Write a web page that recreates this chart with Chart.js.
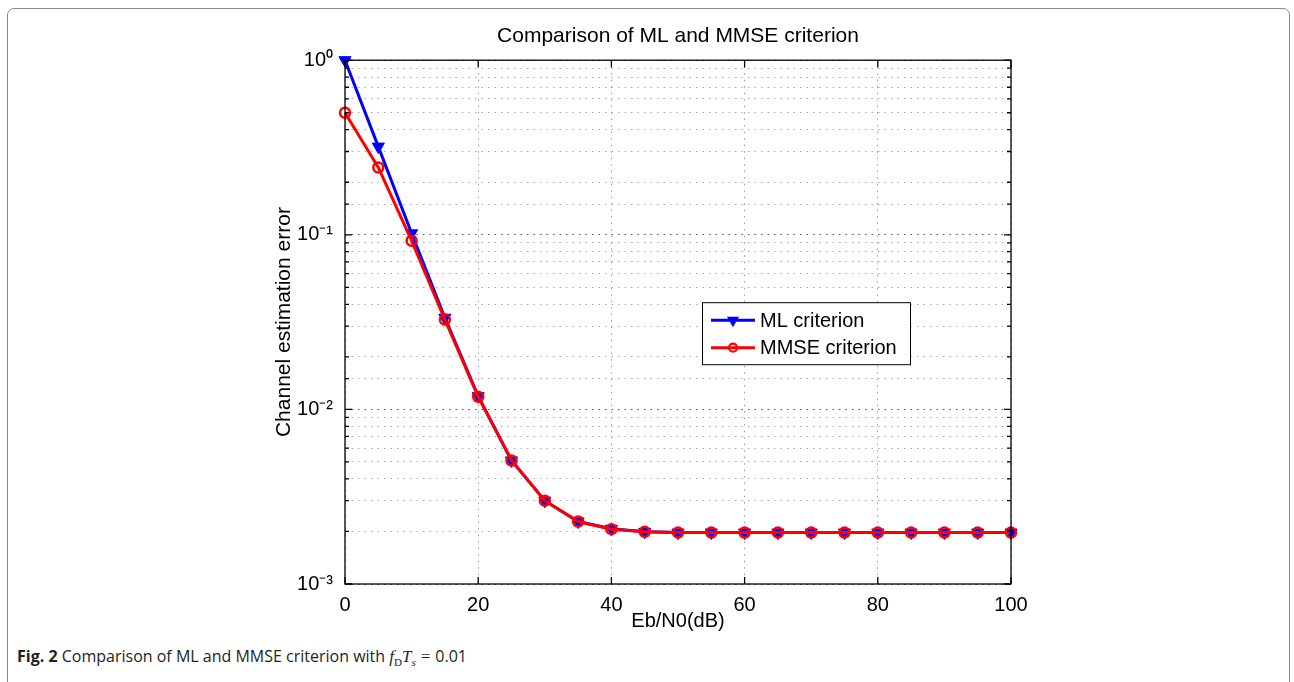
<!DOCTYPE html>
<html>
<head>
<meta charset="utf-8">
<script src="https://cdn.jsdelivr.net/npm/chart.js@4/dist/chart.umd.min.js"></script>
<style>
    body { margin: 0; background: #fff; }
    #page { position: relative; width: 1294px; height: 682px; overflow: hidden; }
    #frame {
        position: absolute; left: 7px; top: 8px; width: 1281px; height: 720px;
        border: 1.5px solid #8a8a8a; border-radius: 7px;
    }
    #chartBox { position: absolute; left: 0; top: 0; width: 1294px; height: 640px; }
    #caption {
        position: absolute; left: 17px; top: 645px;
        font-family: 'Open Sans', 'Noto Sans', sans-serif; font-size: 16px; color: #231f20;
        white-space: nowrap;
    }
    #caption b { font-weight: 700; }
    #caption .m { font-family: 'Liberation Serif', 'DejaVu Serif', serif; font-style: italic; font-size: 17px; }
    #caption sub { font-family: 'Liberation Serif', serif; font-size: 11px; font-style: normal; }
    #caption .eq { font-family: 'Liberation Serif', serif; font-size: 17px; margin: 0 5px; }
</style>
</head>
<body>
<div id="page">
    <div id="frame"></div>
    <div id="chartBox"><canvas id="myChart"></canvas></div>
    <div id="caption"><b>Fig. 2</b> Comparison of ML and MMSE criterion with <span class="m">f</span><sub>D</sub><span class="m">T</span><sub><i>s</i></sub><span class="eq">=</span>0.01</div>
</div>
<script>
// Eb/N0 in dB
const ebN0 = [0, 5, 10, 15, 20, 25, 30, 35, 40, 45, 50, 55, 60, 65, 70, 75, 80, 85, 90, 95, 100];

const mlError = [1.0, 0.32, 0.102, 0.0335, 0.0119, 0.0051, 0.0030, 0.00228, 0.00207, 0.00199, 0.00197,
    0.00197, 0.00197, 0.00197, 0.00197, 0.00197, 0.00197, 0.00197, 0.00197, 0.00197, 0.00197];
const mmseError = [0.50, 0.243, 0.0925, 0.0327, 0.0118, 0.0051, 0.0030, 0.00228, 0.00206, 0.00199, 0.00197,
    0.00197, 0.00197, 0.00197, 0.00197, 0.00197, 0.00197, 0.00197, 0.00197, 0.00197, 0.00197];

const seriesNames = ['ML criterion', 'MMSE criterion'];

const yTickValues = [1, 0.1, 0.01, 0.001];
const yTickLabels = ['10\u2070', '10\u207B\u00B9', '10\u207B\u00B2', '10\u207B\u00B3'];

const FONT = "'Liberation Sans', Arial, Helvetica, sans-serif";

function isDecade(value) {
    return yTickValues.some((v) => Math.abs(value - v) / v < 1e-6);
}

function toPoints(values) {
    return values.map((v, i) => ({ x: ebN0[i], y: v }));
}

function drawMarker(ctx, style, x, y, color) {
    ctx.save();
    ctx.strokeStyle = color;
    ctx.fillStyle = color;
    if (style === 'tri') {
        const r = 7;
        ctx.beginPath();
        ctx.moveTo(x - r * 0.866, y - r * 0.5);
        ctx.lineTo(x + r * 0.866, y - r * 0.5);
        ctx.lineTo(x, y + r);
        ctx.closePath();
        ctx.fill();
    } else {
        ctx.lineWidth = 2.2;
        ctx.beginPath();
        ctx.arc(x, y, 4, 0, Math.PI * 2);
        ctx.stroke();
    }
    ctx.restore();
}

// MATLAB-like box, inward tick marks and legend
const axesDecor = {
    id: 'axesDecor',
    afterDraw(chart) {
        const ctx = chart.ctx;
        const a = chart.chartArea;
        const xs = chart.scales.x;
        const ys = chart.scales.y;
        ctx.save();
        ctx.strokeStyle = '#000';
        ctx.lineWidth = 1.3;
        ctx.strokeRect(a.left, a.top, a.right - a.left, a.bottom - a.top);

        ctx.beginPath();
        xs.ticks.forEach((t) => {
            const px = xs.getPixelForValue(t.value);
            ctx.moveTo(px, a.bottom); ctx.lineTo(px, a.bottom - 7);
            ctx.moveTo(px, a.top); ctx.lineTo(px, a.top + 7);
        });
        ys.ticks.forEach((t) => {
            const py = ys.getPixelForValue(t.value);
            const len = isDecade(t.value) ? 7 : 4;
            ctx.moveTo(a.left, py); ctx.lineTo(a.left + len, py);
            ctx.moveTo(a.right, py); ctx.lineTo(a.right - len, py);
        });
        ctx.stroke();

        // legend
        const x0 = a.left + 357, y0 = a.top + 242, w = 208, h = 62;
        ctx.fillStyle = '#fff';
        ctx.fillRect(x0, y0, w, h);
        ctx.lineWidth = 1;
        ctx.strokeStyle = '#000';
        ctx.strokeRect(x0 + 0.5, y0 + 0.5, w, h);
        chart.data.datasets.forEach((ds, i) => {
            const yy = y0 + 18 + i * 27.5;
            ctx.strokeStyle = ds.borderColor;
            ctx.lineWidth = 3;
            ctx.beginPath();
            ctx.moveTo(x0 + 9, yy); ctx.lineTo(x0 + 53, yy);
            ctx.stroke();
            drawMarker(ctx, ds.pointStyle === 'triangle' ? 'tri' : 'circ', x0 + 31, yy, ds.borderColor);
            ctx.fillStyle = '#000';
            ctx.font = '20px ' + FONT;
            ctx.textBaseline = 'middle';
            ctx.textAlign = 'left';
            ctx.fillText(ds.label, x0 + 58, yy + 1);
        });
        ctx.restore();
    }
};

const ctx = document.getElementById('myChart');

new Chart(ctx, {
    type: 'line',
    data: {
        datasets: [
            {
                label: seriesNames[0],
                data: toPoints(mlError),
                borderColor: '#0000ff',
                backgroundColor: '#0000ff',
                borderWidth: 3,
                pointStyle: 'triangle',
                pointRotation: 180,
                pointRadius: 7,
                pointBorderWidth: 1,
                clip: false,
                order: 2,
            },
            {
                label: seriesNames[1],
                data: toPoints(mmseError),
                borderColor: '#ff0000',
                backgroundColor: 'rgba(0,0,0,0)',
                borderWidth: 3,
                pointStyle: 'circle',
                pointRadius: 5,
                pointBorderWidth: 2.5,
                clip: false,
                order: 1,
            },
        ]
    },
    options: {
        responsive: true,
        maintainAspectRatio: false,
        animation: false,
        layout: { padding: { left: 265, right: 283, top: 0, bottom: 3 } },
        plugins: {
            legend: { display: false },
            tooltip: { enabled: false },
            title: {
                display: true,
                fullSize: false,
                text: 'Comparison of ML and MMSE criterion',
                color: '#000',
                font: { family: FONT, size: 21, weight: 'normal' },
                padding: { top: 24, bottom: 11 },
            },
        },
        scales: {
            x: {
                type: 'linear',
                min: 0,
                max: 100,
                afterFit: (scale) => { scale.height = 53; },
                ticks: {
                    stepSize: 20,
                    color: '#000',
                    padding: 9,
                    maxRotation: 0,
                    font: { family: FONT, size: 20 },
                },
                grid: { color: '#9a9a9a', lineWidth: 1, drawTicks: false },
                border: { display: false, dash: [1.5, 5] },
                title: {
                    display: true,
                    text: 'Eb/N0(dB)',
                    color: '#000',
                    font: { family: FONT, size: 20 },
                    padding: { top: 4, bottom: 4 },
                },
            },
            y: {
                type: 'logarithmic',
                min: 0.001,
                max: 1,
                afterFit: (scale) => { scale.width = 80; },
                ticks: {
                    autoSkip: false,
                    color: '#000',
                    padding: 12,
                    font: { family: FONT, size: 20 },
                    callback: function (value) {
                        const i = yTickValues.findIndex((v) => Math.abs(value - v) / v < 1e-6);
                        return i >= 0 ? yTickLabels[i] : '';
                    },
                },
                grid: {
                    drawTicks: false,
                    color: (c) => (c.tick && isDecade(c.tick.value) ? '#555' : '#a8a8a8'),
                },
                border: { display: false, dash: [1.5, 5] },
                title: {
                    display: true,
                    text: 'Channel estimation error',
                    color: '#000',
                    font: { family: FONT, size: 21 },
                    padding: { top: 7, bottom: 4 },
                },
            },
        },
    },
    plugins: [axesDecor],
});
</script>
</body>
</html>
